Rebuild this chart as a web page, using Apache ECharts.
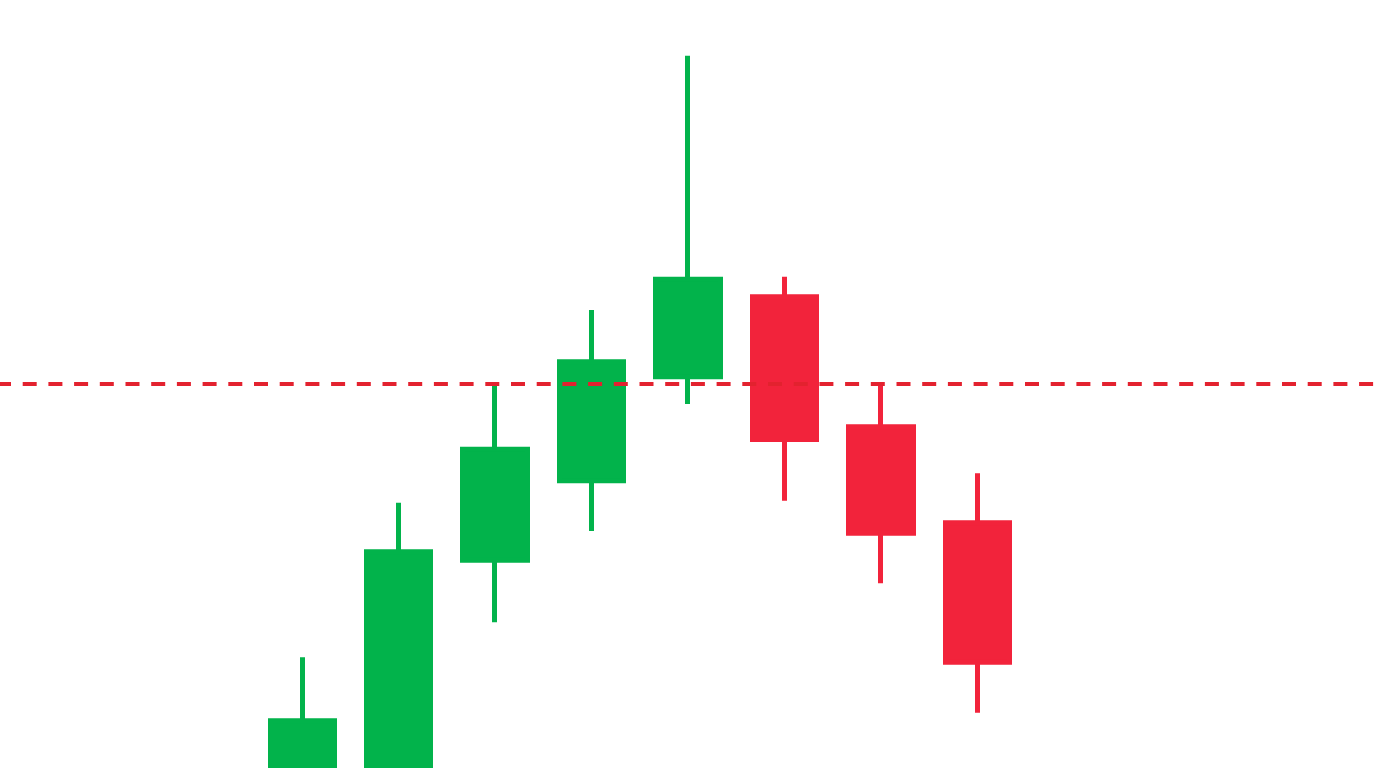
<!DOCTYPE html>
<html>
<head>
<meta charset="utf-8">
<script src="https://cdn.jsdelivr.net/npm/echarts@6/dist/echarts.min.js"></script>
<style>
html,body{margin:0;padding:0;background:#ffffff;}
#chart{width:1376px;height:768px;}
</style>
</head>
<body>
<div id="chart"></div>
<script>
const categories = ['C1', 'C2', 'C3', 'C4', 'C5', 'C6', 'C7', 'C8'];
// body ends read at the inner edge of the 5px outline
const opens  = [-40, -22, 207.8, 287.2, 391.2, 471.2, 341.2, 245.2];
const closes = [47.2, 216.2, 318.8, 406.2, 488.8, 328.5, 234.8, 105.8];
const lows   = [-60, -40, 145.7, 237.0, 364.0, 267.3, 184.7, 55.3];
const highs  = [110.7, 265.3, 384.0, 458.0, 712.3, 491.3, 384.5, 294.7];
const resistanceLevel = 384.3;

const candleData = categories.map((c, i) => [opens[i], closes[i], lows[i], highs[i]]);

const chart = echarts.init(document.getElementById('chart'), null, {renderer: 'canvas'});
chart.setOption({
  backgroundColor: '#ffffff',
  animation: false,
  grid: {left: 254.1, right: 350.5, top: 0, bottom: 0},
  xAxis: {
    type: 'category',
    data: categories,
    boundaryGap: true,
    axisLine: {show: false},
    axisTick: {show: false},
    axisLabel: {show: false},
    splitLine: {show: false}
  },
  yAxis: {
    type: 'value',
    min: 0,
    max: 768,
    axisLine: {show: false},
    axisTick: {show: false},
    axisLabel: {show: false},
    splitLine: {show: false}
  },
  series: [{
    type: 'candlestick',
    data: candleData,
    barWidth: 65,
    itemStyle: {
      color: '#02B34B',
      color0: '#F2233B',
      borderColor: '#02B34B',
      borderColor0: '#F2233B',
      borderWidth: 5
    },
    markLine: {
      silent: true,
      symbol: ['none', 'none'],
      label: {show: false},
      lineStyle: {color: '#E3222F', width: 4, type: [14, 11.7], dashOffset: 3},
      data: [[{x: 0, yAxis: resistanceLevel}, {x: 1376, yAxis: resistanceLevel}]],
      z: 10
    }
  }]
});
</script>
</body>
</html>
